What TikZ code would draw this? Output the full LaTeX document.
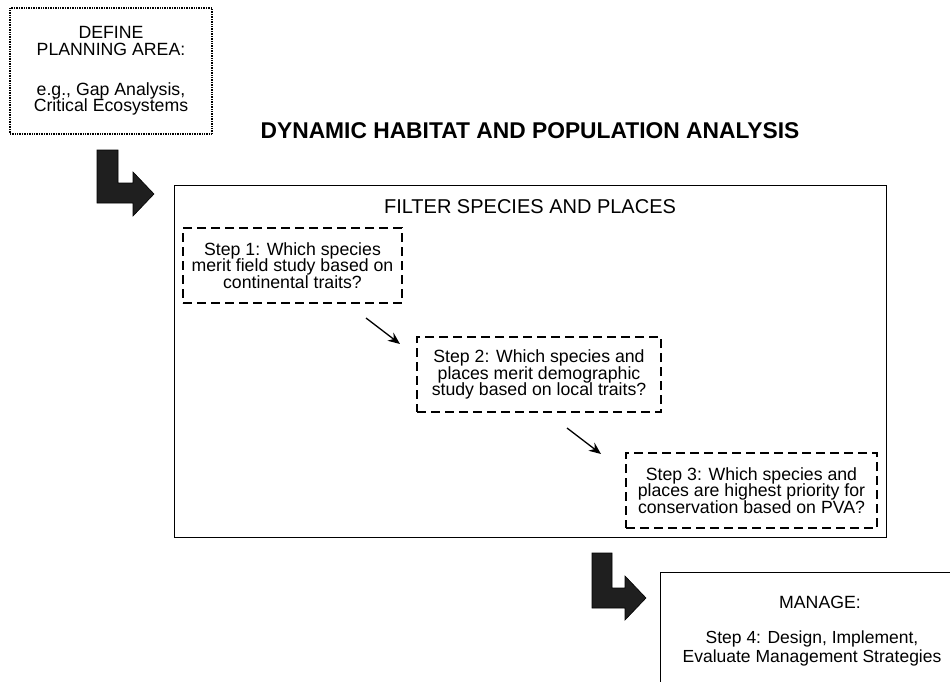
\documentclass[tikz,border=0pt]{standalone}
\usepackage{fontspec}
\setmainfont{Liberation Sans}
\usetikzlibrary{arrows.meta}
\begin{document}
\begin{tikzpicture}[x=1pt,y=-1pt,
  txt/.style={font=\fontsize{17.7}{16.8}\selectfont, align=center, inner sep=0pt},
  stepbox/.style={draw, line width=1.2pt, dash pattern=on 9pt off 5pt, txt},
  dotbox/.style={draw, line width=1.1pt, dash pattern=on 0.8pt off 0.9pt, txt},
  framebox/.style={draw, line width=1pt, inner sep=0pt},
  larrow/.style={fill=black!88, draw=black, line width=0.6pt},
  flow/.style={line width=1.3pt, -{Stealth[length=12pt,width=10pt]}}
]
\useasboundingbox (0,0) rectangle (950,682);

% Define planning area
\node[dotbox, minimum width=202pt, minimum height=126pt] (define) at (111,71)
  {DEFINE\\PLANNING AREA:\\[23pt]e.g., Gap Analysis,\\Critical Ecosystems};

% Title
\node[font=\bfseries\fontsize{22.8}{25}\selectfont, inner sep=0pt] (title) at (530,131)
  {DYNAMIC HABITAT AND POPULATION ANALYSIS};

% L-arrow 1
\draw[larrow] (97,150) -- (118,150) -- (118,183) -- (133,183) -- (133,172) -- (154,194)
  -- (133,216) -- (133,203) -- (97,203) -- cycle;

% Filter frame
\node[framebox, minimum width=712pt, minimum height=352pt] (filter) at (530,361) {};
\node[font=\fontsize{20}{22}\selectfont, inner sep=0pt] (filtertitle) at (530,207)
  {FILTER SPECIES AND PLACES};

% Steps
\node[stepbox, minimum width=219pt, minimum height=75pt] (s1) at (292.5,265.5)
  {Step 1: Which species\\merit field study based on\\continental traits?};
\node[stepbox, minimum width=244pt, minimum height=75pt] (s2) at (539,374.5)
  {Step 2: Which species and\\places merit demographic\\study based on local traits?};
\node[stepbox, minimum width=251pt, minimum height=75pt] (s3) at (751.5,490.5)
  {Step 3: Which species and\\places are highest priority for\\conservation based on PVA?};

\coordinate (a1s) at (366,318);
\coordinate (a1e) at (400,344);
\coordinate (a2s) at (567,428);
\coordinate (a2e) at (601,454);
\draw[flow] (a1s) -- (a1e);
\draw[flow] (a2s) -- (a2e);

% L-arrow 2
\draw[larrow] (592,553) -- (612,553) -- (612,588) -- (625,588) -- (625,576) -- (646,598)
  -- (625,620) -- (625,608) -- (592,608) -- cycle;

% Manage frame (open at right and bottom)
\coordinate (mbl) at (660,682);
\coordinate (mtl) at (660,572);
\coordinate (mtr) at (950,572);
\draw[line width=1pt] (mbl) -- (mtl) -- (mtr);
\node[txt] (manage) at (820,602) {MANAGE:};
\node[txt, font=\fontsize{17.5}{19}\selectfont] (step4) at (812,648.5)
  {Step 4: Design, Implement,\\Evaluate Management Strategies};
\end{tikzpicture}
\end{document}
